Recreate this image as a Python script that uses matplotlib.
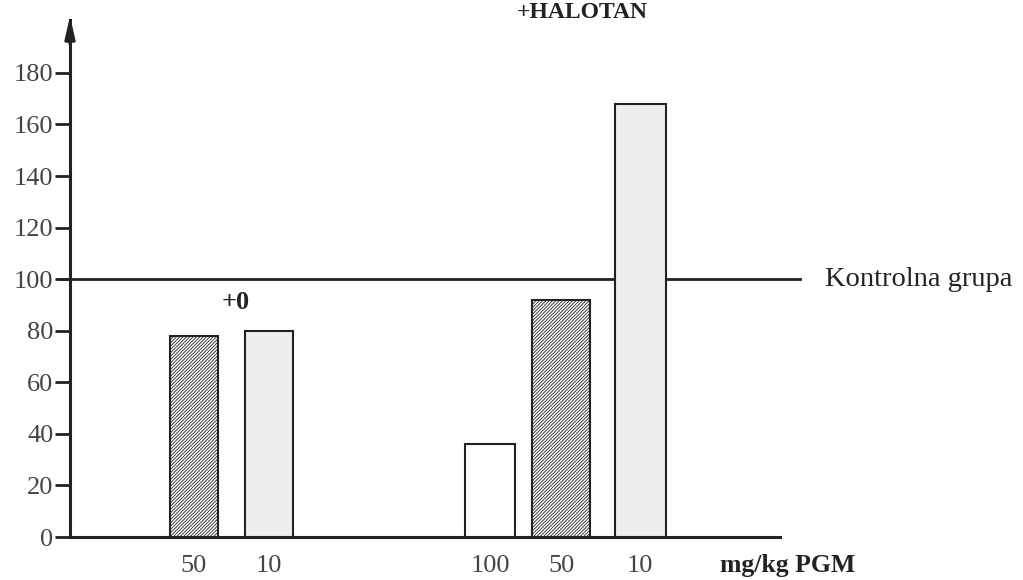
import matplotlib
matplotlib.use("Agg")
from matplotlib import pyplot as plt

plt.rcParams['font.family'] = ['Liberation Serif', 'DejaVu Serif']

# data
doses = ['50', '10', '100', '50', '10']
values = [78, 80, 36, 92, 168]
positions = [1.24, 1.99, 4.20, 4.91, 5.70]
widths = [0.48, 0.48, 0.50, 0.58, 0.51]
kinds = ['hatch', 'gray', 'white', 'hatch', 'gray']
control = 100
yticks = list(range(0, 181, 20))

fig = plt.figure(figsize=(10.23, 5.80), dpi=100)
ax = fig.add_axes([70/1023, 43/580, 710/1023, 517/580])
ax.set_xlim(0, 7.1)
ax.set_ylim(0, 200.5)

plt.rcParams['hatch.color'] = '#666666'
plt.rcParams['hatch.linewidth'] = 0.6
for x, v, w, k in zip(positions, values, widths, kinds):
    if k == 'hatch':
        ax.bar(x, v, w, facecolor='white', edgecolor='#222222', hatch='//////////', linewidth=1.5, zorder=3)
    elif k == 'gray':
        ax.bar(x, v, w, facecolor='#eeeeee', edgecolor='#222222', linewidth=1.5, zorder=3)
    else:
        ax.bar(x, v, w, facecolor='white', edgecolor='#222222', linewidth=1.5, zorder=3)

# control line
ax.plot([-0.1, 7.3], [control, control], color='#222222', lw=2, clip_on=False, zorder=2)
ax.text(7.55, control, 'Kontrolna grupa', fontsize=20.5, va='center', ha='left', color='#222222')

for s in ['top', 'right']:
    ax.spines[s].set_visible(False)
for s in ['left', 'bottom']:
    ax.spines[s].set_linewidth(2.2)
    ax.spines[s].set_color('#222222')

# arrow head on y axis
ax.annotate('', xy=(0, 203), xytext=(0, 190), annotation_clip=False,
            arrowprops=dict(arrowstyle='-|>,head_length=1.3,head_width=0.3', color='#222222', lw=2.2))

ax.set_yticks(yticks)
ax.set_yticklabels([str(t) for t in yticks], fontsize=19, color='#444444')
ax.tick_params(axis='y', length=11, width=2, color='#222222', pad=1)
ax.set_xticks(positions)
ax.set_xticklabels(doses, fontsize=19, color='#444444')
ax.tick_params(axis='x', length=0, pad=13)

ax.text(1.66, 91, '+0', fontsize=19, fontweight='bold', ha='center', va='center', color='#222222')
ax.text(5.12, 203.5, '+HALOTAN', fontsize=17, fontweight='bold', ha='center', va='center',
        color='#222222', clip_on=False)
ax.text(6.5, -11, 'mg/kg PGM', fontsize=18.5, fontweight='bold', ha='left', va='center', color='#222222')

plt.savefig("out.png", dpi=100)
